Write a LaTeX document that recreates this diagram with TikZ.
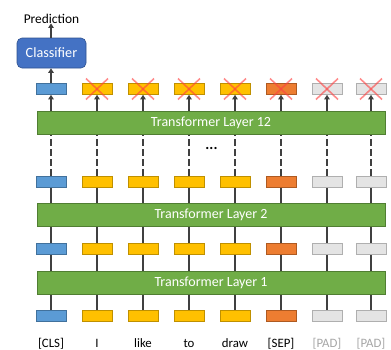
\documentclass[tikz,border=0pt]{standalone}
\usepackage{fontspec}
\setmainfont{Carlito}
\usetikzlibrary{arrows.meta,backgrounds}
\definecolor{cblue}{HTML}{5B9BD5}
\definecolor{cblueD}{HTML}{41719C}
\definecolor{cyel}{HTML}{FFC000}
\definecolor{cyelD}{HTML}{BF9000}
\definecolor{corg}{HTML}{ED7D31}
\definecolor{corgD}{HTML}{AE5A21}
\definecolor{cgry}{HTML}{E4E4E4}
\definecolor{cgryD}{HTML}{AFAFAF}
\definecolor{cgrn}{HTML}{70AD47}
\definecolor{cgrnD}{HTML}{507E32}
\definecolor{cclf}{HTML}{4472C4}
\definecolor{cclfD}{HTML}{2F528F}
\definecolor{cline}{HTML}{404040}
\definecolor{ccross}{HTML}{FF4040}
\definecolor{cpad}{HTML}{A6A6A6}
\tikzset{
  tok/.style={draw, line width=0.6pt, minimum width=30pt, minimum height=11pt, inner sep=0pt},
  tblue/.style={tok, fill=cblue, draw=cblueD},
  tyel/.style={tok, fill=cyel, draw=cyelD},
  torg/.style={tok, fill=corg, draw=corgD},
  tgry/.style={tok, fill=cgry, draw=cgryD},
  layer/.style={draw=cgrnD, fill=cgrn, line width=0.6pt, minimum width=348pt, minimum height=23pt, inner sep=0pt, text=white, font=\fontsize{14}{16}\selectfont},
  conn/.style={draw=cline, line width=1.6pt},
  dconn/.style={conn, dash pattern=on 6.5pt off 3.5pt},
  aconn/.style={conn, -{Triangle[width=5.5pt,length=4.5pt]}},
  crossline/.style={draw=ccross, draw opacity=0.6, line width=1.6pt},
  lbl/.style={font=\fontsize{12.8}{14}\selectfont, inner sep=0pt},
}
\begin{document}
\begin{tikzpicture}[x=1pt,y=-1pt]
\useasboundingbox (0,0) rectangle (391,349);
% layers
\node[layer] (L12) at (211,123) {Transformer Layer 12};
\node[layer] (L2) at (211,215) {Transformer Layer 2};
\node[layer] (L1) at (211,282.5) {Transformer Layer 1};
% token boxes
\foreach \i/\x/\s in {1/51/tblue,2/97/tyel,3/143/tyel,4/189/tyel,5/235/tyel,6/281/torg,7/327/tgry,8/371/tgry}{
  \node[\s] (a\i) at (\x,316) {};
  \node[\s] (b\i) at (\x,248.5) {};
  \node[\s] (c\i) at (\x,181.5) {};
  \node[\s] (d\i) at (\x,89) {};
}
\begin{pgfonlayer}{background}
\foreach \i in {1,...,8}{
  \draw[conn] (a\i.center) -- (c\i.center);
  \draw[dconn] (c\i.north) -- (c\i.north |- L12.south);
  \draw[aconn] (d\i.south |- L12.north) -- (d\i.south);
}
\end{pgfonlayer}
% crosses
\foreach \i in {2,...,8}{
  \draw[crossline] ([shift={(-11,10.5)}]d\i.center) -- ([shift={(11,-10.5)}]d\i.center);
  \draw[crossline] ([shift={(-11,-10.5)}]d\i.center) -- ([shift={(11,10.5)}]d\i.center);
}
% dots
\node[font=\fontsize{15}{16}\selectfont\bfseries, inner sep=0pt] (dots) at (211.5,148) {...};
% classifier
\node[draw=cclfD, fill=cclf, line width=0.6pt, rounded corners=5pt, minimum width=69pt, minimum height=30pt, inner sep=0pt, text=white, font=\fontsize{14.2}{16}\selectfont] (clf) at (51.5,53) {Classifier};
\node[lbl, font=\fontsize{13.4}{15}\selectfont] (pred) at (51.5,18.5) {Prediction};
\draw[aconn] (d1.north) -- (d1.north |- clf.south);
\draw[aconn] (d1.north |- clf.north) -- (d1.north |- pred.south);
% labels
\node[lbl, anchor=base] (l1) at (51,347) {[CLS]};
\node[lbl, anchor=base] (l2) at (97,347) {I};
\node[lbl, anchor=base] (l3) at (143,347) {like};
\node[lbl, anchor=base] (l4) at (189,347) {to};
\node[lbl, anchor=base] (l5) at (235,347) {draw};
\node[lbl, anchor=base] (l6) at (281,347) {[SEP]};
\node[lbl, anchor=base, text=cpad] (l7) at (327,347) {[PAD]};
\node[lbl, anchor=base, text=cpad] (l8) at (371,347) {[PAD]};
\end{tikzpicture}
\end{document}
